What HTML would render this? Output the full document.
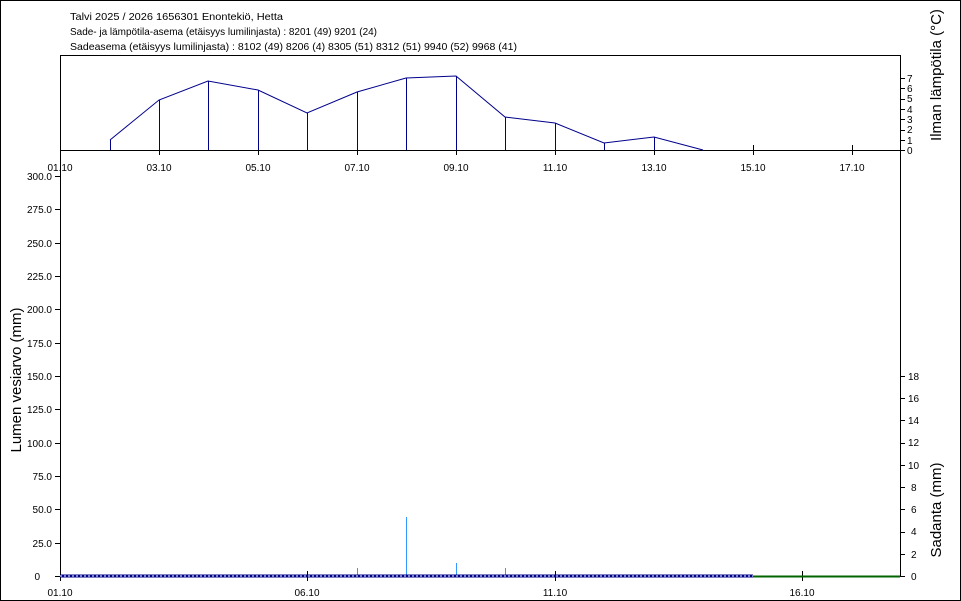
<!DOCTYPE html>
<html><head><meta charset="utf-8"><style>html,body{margin:0;padding:0;background:#fff}svg{display:block}text{font-family:"Liberation Sans",sans-serif;fill:#000}</style></head><body>
<svg width="961" height="601" viewBox="0 0 961 601" xmlns="http://www.w3.org/2000/svg">
<rect x="0.5" y="0.5" width="960" height="600" fill="#fff" stroke="#000"/>
<g font-size="10.5">
<text x="70" y="20" textLength="213" lengthAdjust="spacingAndGlyphs">Talvi 2025 / 2026 1656301 Enontekiö, Hetta</text>
<text x="70" y="35" textLength="307" lengthAdjust="spacingAndGlyphs">Sade- ja lämpötila-asema (etäisyys lumilinjasta) :  8201 (49) 9201 (24)</text>
<text x="70" y="50" textLength="447" lengthAdjust="spacingAndGlyphs">Sadeasema (etäisyys lumilinjasta) :  8102 (49) 8206 (4) 8305 (51) 8312 (51) 9940 (52) 9968 (41)</text>
</g>
<g shape-rendering="crispEdges">
<g stroke="#000" fill="none">
<path d="M60.5 576V55.5H900.5V576"/>
<path d="M60 150.5H900"/>
<path d="M60 576.5H900"/>
</g>
<g stroke="#000">
<path d="M60.5 150v5M159.5 150v5M258.5 150v5M357.5 150v5M456.5 150v5M555.5 150v5M654.5 150v5M753.5 145v10M852.5 145v10"/>
<path d="M900 150.5h5M900 140.5h5M900 130.5h5M900 119.5h5M900 109.5h5M900 99.5h5M900 88.5h5M900 78.5h5"/>
</g>
<g stroke="#00008b" fill="none">
<path d="M110.5 140V150M159.5 100V150M208.5 81V150M258.5 90V150M307.5 113V150M357.5 92V150M406.5 78V150M456.5 76V150M505.5 117V150M555.5 123V150M604.5 143V150M654.5 137V150"/>
</g>
<g stroke="#000">
<path d="M55 176.5h5M55 209.5h5M55 243.5h5M55 276.5h5M55 309.5h5M55 343.5h5M55 376.5h5M55 409.5h5M55 443.5h5M55 476.5h5M55 509.5h5M55 543.5h5M55 576.5h5"/>
<path d="M900 376.5h5M900 398.5h5M900 420.5h5M900 443.5h5M900 465.5h5M900 487.5h5M900 509.5h5M900 532.5h5M900 554.5h5M900 576.5h5"/>
<path d="M60.5 571v10M307.5 571v10M555.5 571v10M802.5 571v10"/>
</g>
<g stroke="#3399ff">
<path d="M357.5 568V576M406.5 517V576M456.5 563V576M505.5 568V576"/>
</g>
</g>
<g font-size="10" text-anchor="middle">
<text x="60" y="171">01.10</text><text x="159" y="171">03.10</text><text x="258" y="171">05.10</text><text x="357" y="171">07.10</text><text x="456" y="171">09.10</text><text x="555" y="171">11.10</text><text x="654" y="171">13.10</text><text x="753" y="171">15.10</text><text x="852" y="171">17.10</text>
</g>
<g font-size="10">
<text x="907" y="154">0</text><text x="907" y="144">1</text><text x="907" y="133">2</text><text x="907" y="123">3</text><text x="907" y="113">4</text><text x="907" y="102">5</text><text x="907" y="92">6</text><text x="907" y="82">7</text>
</g>
<polyline points="110,140 159,100 208,81 258,90 307,113 357,92 406,78 456,76 505,117 555,123 604,143 654,137 703,150" stroke="#00008b" fill="none"/>
<g font-size="10" text-anchor="end">
<text x="52" y="180">300.0</text><text x="52" y="213">275.0</text><text x="52" y="247">250.0</text><text x="52" y="280">225.0</text><text x="52" y="313">200.0</text><text x="52" y="347">175.0</text><text x="52" y="380">150.0</text><text x="52" y="413">125.0</text><text x="52" y="447">100.0</text><text x="52" y="480">75.0</text><text x="52" y="513">50.0</text><text x="52" y="547">25.0</text><text x="40" y="580">0</text>
</g>
<g font-size="10">
<text x="908" y="380">18</text><text x="908" y="402">16</text><text x="908" y="424">14</text><text x="908" y="446">12</text><text x="908" y="469">10</text><text x="911" y="491">8</text><text x="911" y="513">6</text><text x="911" y="535">4</text><text x="911" y="558">2</text><text x="911" y="580">0</text>
</g>
<g font-size="10" text-anchor="middle">
<text x="60" y="596">01.10</text><text x="307" y="596">06.10</text><text x="555" y="596">11.10</text><text x="802" y="596">16.10</text>
</g>
<path d="M60 576H753" stroke="#00008b" stroke-width="3"/>
<path d="M60 576H753" stroke="#fff" stroke-width="1" stroke-dasharray="2,2"/>
<path d="M753 576.5H900" stroke="#006400" stroke-width="2"/>
<g font-size="15" fill="#000">
<text transform="translate(21,380) rotate(-90)" text-anchor="middle">Lumen vesiarvo (mm)</text>
<text transform="translate(941,510) rotate(-90)" text-anchor="middle">Sadanta (mm)</text>
<text transform="translate(941,75) rotate(-90)" text-anchor="middle">Ilman lämpötila (°C)</text>
</g>
</svg>
</body></html>
